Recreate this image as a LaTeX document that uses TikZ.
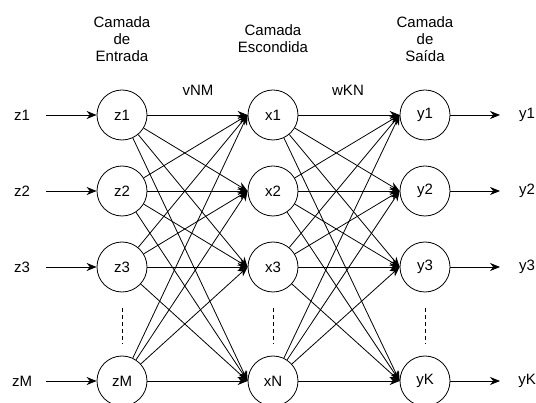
\documentclass[tikz,border=0pt]{standalone}
\usepackage{fontspec}
\setmainfont{Liberation Sans}
\usetikzlibrary{arrows.meta}

\begin{document}
\begin{tikzpicture}[x=1pt, y=-1pt, >={Stealth[length=10pt, width=8pt]}, line width=0.8pt,
    font=\fontsize{15}{17}\selectfont,
    neuron/.style={draw, circle, minimum size=50pt, inner sep=0pt},
    title/.style={align=center, inner sep=0pt}]
    \useasboundingbox (0,0) rectangle (536,403);

    % titulos das camadas
    \node[title] (tin) at (122,39) {Camada\\de\\Entrada};
    \node[title] (thid) at (273,39) {Camada\\Escondida};
    \node[title] (tout) at (425,39) {Camada\\de\\Saída};

    \node (vnm) at (198,90) {vNM};
    \node (wkn) at (348,90) {wKN};

    % neuronios
    \foreach \n/\r in {1/115, 2/191, 3/267, M/381} {
        \node[neuron] (z\n) at (122,\r) {z\n};
        \node (lz\n) at (22,\r) {z\n};
        \coordinate (sz\n) at (46,\r);
        \draw[->] (sz\n) -- (z\n);
    }
    \foreach \n/\r in {1/115, 2/191, 3/267, N/381}
        \node[neuron] (x\n) at (273,\r) {x\n};
    \foreach \n/\r in {1/115, 2/191, 3/267, K/381} {
        \node[neuron] (y\n) at (425,\r) {y\n};
        \node (ly\n) at (527,\r) {y\n};
        \coordinate (ey\n) at (500,\r);
        \draw[->] (y\n) -- (ey\n);
    }

    % pesos
    \foreach \a in {1,2,3,M}
        \foreach \b in {1,2,3,N}
            \draw[->] (z\a) -- (x\b.west);
    \foreach \a in {1,2,3,N}
        \foreach \b in {1,2,3,K}
            \draw[->] (x\a) -- (y\b.west);

    % reticencias
    \draw[dash pattern=on 3.5pt off 3.5pt, shorten <=16pt, shorten >=12pt] (z3) -- (zM);
    \draw[dash pattern=on 3.5pt off 3.5pt, shorten <=16pt, shorten >=12pt] (x3) -- (xN);
    \draw[dash pattern=on 3.5pt off 3.5pt, shorten <=16pt, shorten >=12pt] (y3) -- (yK);
\end{tikzpicture}
\end{document}
